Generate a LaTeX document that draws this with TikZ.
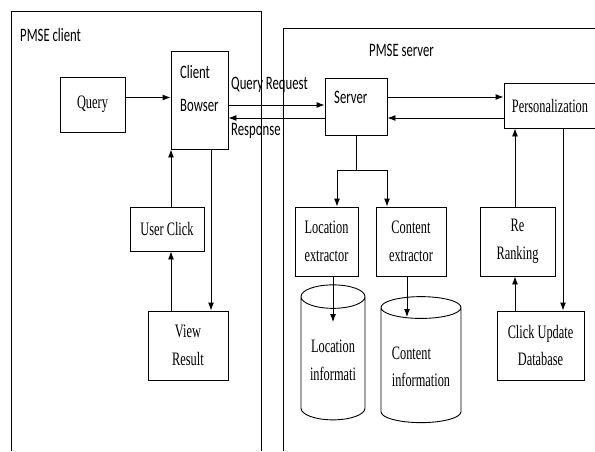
\documentclass[tikz,border=0pt]{standalone}
\usepackage{fontspec}
\setmainfont{Liberation Serif}[FakeStretch=0.65]
\newfontfamily\calfont{Carlito}[FakeStretch=0.67]
\usetikzlibrary{shapes.geometric,arrows.meta}

\begin{document}
\begin{tikzpicture}[x=1pt,y=-1pt]
	\tikzstyle{Box} = [rectangle, draw, line width=0.9pt, inner sep=2pt, align=center, font=\fontsize{19}{27.5}\selectfont]
	\tikzstyle{Cal} = [font=\calfont\fontsize{19}{33}\selectfont, inner sep=0pt, align=left]
	\tikzstyle{Flow} = [-{Latex[length=8pt,width=6pt]}, line width=0.9pt]
	\tikzstyle{Store} = [cylinder, shape border rotate=90, draw, line width=0.9pt, inner sep=2pt, font=\fontsize{19}{27.5}\selectfont]

	\useasboundingbox (0,0) rectangle (595,451);
	\clip (0,0) rectangle (595,451);

	% the two sides
	\draw [line width=0.9pt] (11,451) -- (11,11) -- (261,11) -- (261,451);
	\draw [line width=0.9pt] (283,451) -- (283,28) -- (600,28);
	\node (clientlbl) at (20,35) [Cal, anchor=west] {PMSE client};
	\node (serverlbl) at (369,50) [Cal, anchor=west] {PMSE server};

	% client
	\node (query) at (92.5,104.5) [Box, minimum width=65, minimum height=55] {Query};
	\node (browser) at (199.5,100) [Box, minimum width=57, minimum height=98] {};
	\node (browsertxt) at (180,88.5) [Cal, anchor=west] {Client\\Bowser};
	\node (userclick) at (167,229) [Box, minimum width=74, minimum height=44] {User Click};
	\node (view) at (188,345.5) [Box, minimum width=80, minimum height=69] {View\\Result};

	% server
	\node (server) at (356,106.5) [Box, minimum width=62, minimum height=57] {};
	\node (servertxt) at (334,97) [Cal, anchor=west] {Server};
	\node (pers) at (550,105.5) [Box, minimum width=92, minimum height=45] {Personalization};
	\node (locext) at (326.5,241.5) [Box, minimum width=63, minimum height=69] {Location\\extractor};
	\node (conext) at (411,241.5) [Box, minimum width=70, minimum height=69] {Content\\extractor};
	\node (rerank) at (517.5,241.5) [Box, minimum width=75, minimum height=69] {Re\\Ranking};
	\node (clickdb) at (540.5,345.5) [Box, minimum width=87, minimum height=69] {Click Update\\Database};
	\node (locinfo) at (333,360.5) [Store, minimum width=64, minimum height=135, aspect=0.47, align=center] {Location\\informati};
	\node (coninfo) at (421,367) [Store, minimum width=80, minimum height=126, aspect=0.35, align=left] {Content\\information};

	\coordinate (fork) at (356,170);
	\coordinate (locin) at (333,322);
	\coordinate (conin) at (407,317);

	% client arrows
	\draw [Flow] ([yshift=7]query.east) to ([yshift=7]query.east -| browser.west);
	\draw [Flow] ([xshift=11.5]browser.south) to ([xshift=11.5]browser.south |- view.north);
	\draw [Flow] ([xshift=-17]view.north) to ([xshift=-17]view.north |- userclick.south);
	\draw [Flow] ([xshift=4]userclick.north) to ([xshift=4]userclick.north |- browser.south);

	% request and response
	\draw [Flow] ([yshift=-5]browser.east) to ([yshift=-5]browser.east -| server.west);
	\draw [Flow] ([yshift=-11.5]server.west) to ([yshift=-11.5]server.west -| browser.east);
	\node (reqlbl) at (231,85) [Cal, anchor=west] {Query Request};
	\node (reslbl) at (231,131) [Cal, anchor=west] {Response};

	% server arrows
	\draw [Flow] ([yshift=9.5]server.east) to ([yshift=9.5]server.east -| pers.west);
	\draw [Flow] ([yshift=-12.5]pers.west) to ([yshift=-12.5]pers.west -| server.east);
	\draw [-, line width=0.9pt] (server.south) to (fork);
	\draw [Flow] (fork) -| ([xshift=10.5]locext.north);
	\draw [Flow] (fork) -| ([xshift=-24]conext.north);
	\draw [Flow] ([xshift=6.5]locext.south) to (locin);
	\draw [Flow] ([xshift=-4]conext.south) to (conin);
	\draw [Flow] ([xshift=-2.5]rerank.north) to ([xshift=-2.5]rerank.north |- pers.south);
	\draw [Flow] ([xshift=13]pers.south) to ([xshift=13]pers.south |- clickdb.north);
	\draw [Flow] ([xshift=-25.5]clickdb.north) to ([xshift=-25.5]clickdb.north |- rerank.south);
\end{tikzpicture}
\end{document}
